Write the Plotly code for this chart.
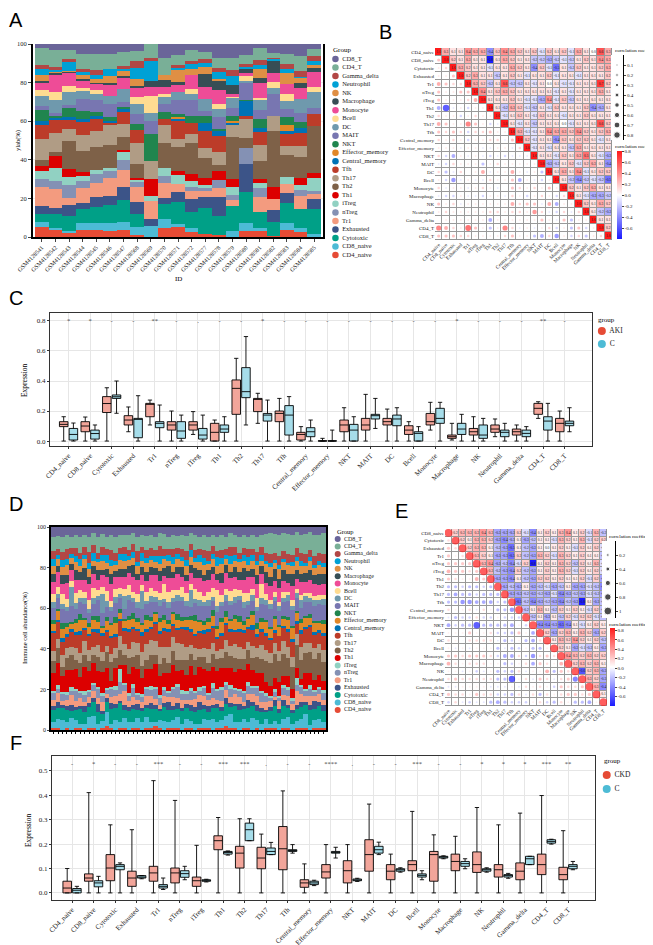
import plotly.graph_objects as go

W, H = 653, 945
SERIF = "Liberation Serif"
SANS = "Liberation Sans"


def xd(a, b):
    return [a / W, b / W]


def yd(top, bottom):
    return [1 - bottom / H, 1 - top / H]


def px(x):
    return x / W


def py(y):
    return 1 - y / H


# ---------------------------------------------------------------- categories
cell_types = ["CD4_naive", "CD8_naive", "Cytotoxic", "Exhausted", "Tr1", "nTreg",
              "iTreg", "Th1", "Th2", "Th17", "Tfh", "Central_memory",
              "Effector_memory", "NKT", "MAIT", "DC", "Bcell", "Monocyte",
              "Macrophage", "NK", "Neutrophil", "Gamma_delta", "CD4_T", "CD8_T"]
cell_colors = ["#E64B35", "#4DBBD5", "#00A087", "#3C5488", "#F39B7F", "#8491B4",
               "#91D1C2", "#DC0000", "#7E6148", "#B09C85", "#BC3C29", "#0072B5",
               "#E18727", "#20854E", "#7876B1", "#6F99AD", "#FFDC91", "#EE4C97",
               "#374E55", "#DF8F44", "#00A1D5", "#B24745", "#79AF97", "#6A6599"]

# ---------------------------------------------------------------- panel A data (%)
a_samples = ["GSM4128541", "GSM4128542", "GSM4128543", "GSM4128544", "GSM4128545",
             "GSM4128546", "GSM4128547", "GSM4128568", "GSM4128569", "GSM4128570",
             "GSM4128571", "GSM4128572", "GSM4128577", "GSM4128578", "GSM4128579",
             "GSM4128580", "GSM4128581", "GSM4128582", "GSM4128583", "GSM4128584",
             "GSM4128585"]
a_CD4_naive = [5, 4, 2.5, 3.5, 3.5, 3, 3.5, 1, 0, 4.5, 5, 2.5, 1.5, 1, 0, 3, 3, 0.5, 3.5, 2.5, 0]
a_CD8_naive = [3, 0.5, 0.5, 4, 3.5, 4, 4.5, 4, 5.5, 5, 1.5, 2, 0, 0, 3, 4, 1.5, 0, 3.5, 2, 1.5]
a_Cytotoxic = [4, 7.5, 8, 7, 8.5, 9.5, 11, 7, 0, 7.5, 11.5, 8.5, 14, 10, 13, 16.5, 8.5, 7.5, 10.5, 10, 13]
a_Exhausted = [4, 3, 5.5, 3, 5, 5, 7, 6, 4, 3, 5.5, 6.5, 5.5, 9.5, 0, 14.5, 0, 6, 5.5, 0, 5]
a_Tr1 = [10, 10, 3.5, 8, 7.5, 9, 8.5, 8, 9, 8, 4, 4.5, 3.5, 5, 3, 0, 7.5, 5.5, 4.5, 7, 3]
a_nTreg = [4, 4, 7, 3.5, 4.5, 3.5, 5.5, 2.5, 0, 3.5, 0, 2, 1.5, 4, 3, 8, 5, 0, 0, 3, 1.5]
a_iTreg = [4, 7, 4, 2.5, 2, 1.5, 4.5, 1.5, 3, 4, 4.5, 3, 1.5, 0, 4, 0, 2.5, 0, 3.5, 2.5, 6.5]
a_Th1 = [3, 6, 4, 2, 0, 0, 0.5, 0.5, 8.5, 0, 2, 3.5, 3.5, 4.5, 4, 0, 2, 6.5, 0, 3.5, 2.5]
a_Th2 = [3, 2, 15, 11, 12, 12, 7, 7.5, 0, 13, 12.5, 16, 10.5, 3.5, 22, 5.5, 9.5, 29, 11.5, 11, 24.5]
a_Th17 = [11, 10, 6, 8.5, 8.5, 11, 6.5, 10.5, 9.5, 9.5, 4.5, 5, 5.5, 6.5, 6, 9.5, 8, 7.5, 4.5, 5.5, 0]
a_Tfh = [7, 7, 4.5, 6.5, 6, 1, 6.5, 7, 0, 3, 9, 5.5, 9, 8.5, 0, 1.5, 7, 0, 6.5, 7, 6]
a_Central_memory = [2, 1, 1.5, 1.5, 1.5, 0.5, 1.5, 0, 0, 0, 1.5, 0, 4, 2.5, 1.5, 8, 2, 0, 1.5, 2.5, 0]
a_Effector_memory = [0, 0, 0, 0, 0, 0, 0, 0, 0, 0, 1, 0, 0, 0, 0.5, 0, 0, 0, 3, 0, 0]
a_NKT = [6, 1, 5, 4.5, 2.5, 2, 1, 3, 14, 4, 1, 3.5, 4, 1, 2.5, 0.5, 4.5, 0, 4, 3, 0]
a_MAIT = [2, 1, 1.5, 6, 6, 7, 2.5, 5, 6.5, 4, 7.5, 8.5, 2.5, 6, 4.5, 9, 5, 11.5, 4.5, 4.5, 3.5]
a_DC = [5, 7, 6.5, 4, 3, 4, 6.5, 5.5, 4.5, 4, 4, 3, 6.5, 4.5, 5.5, 1, 5.5, 3, 4, 7.5, 8]
a_Bcell = [3, 4, 3, 1.5, 2, 0, 0, 3.5, 8.5, 1, 0, 2.5, 0, 2.5, 0.5, 2.5, 0.5, 3.5, 3.5, 0, 2.5]
a_Monocyte = [4, 9, 7, 4, 3.5, 6, 6, 5, 4.5, 3.5, 4, 7.5, 6.5, 7, 1, 1.5, 8, 4.5, 5.5, 5.5, 8]
a_Macrophage = [1, 1, 0.5, 1, 0.5, 1, 1, 0.5, 3.5, 4, 1.5, 0, 6.5, 5, 5, 2, 2.5, 6, 0, 3, 2]
a_NK = [3, 1, 0.5, 2, 2, 3.5, 2.5, 4, 0, 2.5, 6, 3, 4, 1, 0, 0, 4.5, 0, 5.5, 2.5, 1.5]
a_Neutrophil = [3, 1, 5, 1.5, 2, 3.5, 1.5, 5.5, 10, 0, 1.5, 3, 2, 3.5, 4.5, 1.5, 2, 1.5, 2, 0.5, 2]
a_Gamma_delta = [2, 1, 1, 1.5, 2.5, 0, 1, 3.5, 1.5, 0, 1, 1, 2, 2, 3, 1, 2.5, 0.5, 2.5, 3, 3]
a_CD4_T = [9, 9, 5, 8, 8.5, 8, 7.5, 5.5, 7.5, 9, 5.5, 6, 4, 5.5, 6.5, 5, 6.5, 2.5, 5.5, 8, 3.5]
a_CD8_T = [2, 3, 3, 5, 5, 5, 4, 3.5, 0, 7, 5.5, 3, 4, 7, 7, 5.5, 2, 4.5, 5, 6, 2.5]
a_series = [a_CD4_naive, a_CD8_naive, a_Cytotoxic, a_Exhausted, a_Tr1, a_nTreg, a_iTreg,
            a_Th1, a_Th2, a_Th17, a_Tfh, a_Central_memory, a_Effector_memory, a_NKT,
            a_MAIT, a_DC, a_Bcell, a_Monocyte, a_Macrophage, a_NK, a_Neutrophil,
            a_Gamma_delta, a_CD4_T, a_CD8_T]

# ---------------------------------------------------------------- panel D data (relative)
d_CD4_naive = [1, 1, 0, 1, 0, 1, 1, 0, 1, 1, 0, 1, 2, 1, 0, 1, 1, 0, 1, 1, 0, 1, 1, 2, 1, 0, 1, 1, 1, 0,
               1, 1, 0, 1, 1, 1, 0, 1, 1, 2, 1, 1, 0, 1, 1, 0, 1, 0, 1, 1, 1, 0, 1, 1, 0, 1, 1, 1, 0, 1, 1, 1]
d_CD8_naive = [3, 4, 5, 3, 6, 4, 2, 3, 5, 6, 3, 4, 7, 2, 5, 3, 6, 4, 3, 5, 4, 6, 3, 2, 4, 5, 3, 4, 6, 3,
               5, 4, 3, 2, 5, 4, 6, 3, 4, 5, 7, 3, 4, 5, 3, 6, 4, 3, 5, 2, 4, 3, 5, 6, 3, 4, 5, 8, 3, 4, 5, 3]
d_Cytotoxic = [6, 5, 7, 6, 4, 5, 8, 6, 5, 7, 6, 4, 5, 7, 6, 9, 5, 6, 7, 4, 6, 5, 7, 6, 5, 8, 6, 5, 4, 7,
               6, 5, 6, 7, 5, 4, 6, 7, 5, 6, 4, 8, 6, 5, 7, 6, 5, 6, 4, 7, 8, 6, 7, 5, 6, 7, 6, 5, 8, 6, 7, 6]
d_Exhausted = [2, 3, 1, 2, 3, 2, 1, 3, 2, 2, 4, 1, 2, 3, 2, 1, 3, 2, 2, 3, 1, 2, 3, 2, 1, 2, 4, 2, 3, 1,
               2, 3, 2, 4, 2, 3, 1, 2, 2, 3, 2, 1, 3, 2, 4, 2, 3, 2, 1, 2, 3, 2, 3, 2, 1, 2, 3, 2, 3, 4, 2, 3]
d_Tr1 = [3, 4, 2, 3, 5, 3, 4, 2, 3, 4, 3, 5, 2, 3, 4, 3, 8, 3, 4, 2, 3, 5, 4, 3, 2, 4, 3, 5, 3, 4,
         2, 3, 4, 3, 5, 3, 4, 2, 3, 4, 3, 5, 4, 2, 3, 4, 5, 3, 4, 3, 2, 4, 3, 5, 3, 8, 4, 3, 5, 3, 4, 3]
d_nTreg = [3, 2, 4, 3, 2, 5, 3, 4, 2, 3, 5, 3, 2, 4, 3, 6, 4, 3, 5, 2, 3, 4, 3, 5, 4, 3, 2, 4, 6, 3,
           4, 5, 3, 2, 4, 3, 5, 4, 6, 3, 4, 2, 3, 5, 4, 3, 4, 5, 3, 2, 3, 2, 4, 3, 2, 3, 4, 3, 4, 2, 3, 4]
d_iTreg = [1, 2, 1, 1, 2, 1, 1, 2, 1, 1, 1, 2, 1, 1, 2, 6, 1, 1, 2, 1, 1, 1, 2, 1, 1, 2, 1, 1, 1, 2,
           1, 1, 1, 2, 1, 1, 3, 1, 1, 1, 2, 1, 1, 1, 2, 1, 1, 1, 2, 1, 1, 1, 1, 2, 1, 4, 1, 1, 2, 1, 1, 1]
d_Th1 = [9, 10, 8, 11, 9, 10, 7, 12, 9, 10, 8, 11, 10, 3, 9, 2, 11, 10, 9, 12, 8, 10, 9, 11, 10, 8, 9, 11, 7, 10,
         9, 12, 8, 10, 9, 11, 8, 9, 10, 7, 9, 8, 10, 11, 9, 8, 7, 9, 6, 5, 6, 7, 5, 6, 5, 6, 3, 9, 7, 5, 6, 5]
d_Th2 = [6, 7, 5, 6, 8, 5, 7, 6, 5, 4, 7, 6, 8, 9, 5, 7, 6, 8, 5, 7, 6, 5, 7, 4, 6, 8, 5, 7, 6, 5,
         8, 6, 7, 5, 6, 4, 7, 6, 5, 8, 6, 7, 5, 6, 7, 6, 8, 7, 11, 12, 13, 11, 12, 10, 11, 13, 10, 11, 12, 11, 12, 10]
d_Th17 = [5, 4, 6, 5, 4, 6, 5, 7, 5, 4, 6, 5, 3, 4, 5, 7, 6, 5, 8, 6, 7, 9, 8, 7, 9, 6, 8, 7, 9, 8,
          7, 5, 6, 4, 5, 7, 6, 4, 5, 6, 5, 7, 6, 5, 4, 6, 5, 7, 6, 5, 6, 5, 7, 6, 5, 6, 7, 6, 5, 6, 5, 6]
d_Tfh = [9, 8, 7, 6, 8, 7, 9, 6, 7, 8, 6, 9, 7, 8, 6, 7, 8, 9, 7, 6, 8, 7, 6, 8, 7, 9, 8, 6, 7, 8,
         9, 7, 6, 8, 7, 9, 8, 6, 7, 8, 7, 6, 8, 9, 7, 8, 6, 7, 8, 7, 6, 8, 7, 9, 8, 6, 7, 8, 9, 7, 6, 8]
d_Central_memory = [1, 1, 2, 1, 1, 1, 2, 1, 1, 1, 2, 1, 1, 1, 1, 1, 2, 1, 1, 1, 2, 1, 1, 1, 1, 2, 1, 1, 1, 1,
                    2, 1, 1, 1, 2, 1, 1, 1, 1, 1, 2, 1, 1, 1, 1, 2, 1, 1, 1, 1, 1, 0, 1, 1, 1, 1, 2, 1, 1, 1, 1, 1]
d_Effector_memory = [3, 4, 5, 4, 3, 5, 6, 4, 3, 5, 4, 3, 4, 5, 6, 3, 4, 5, 4, 3, 4, 5, 3, 4, 5, 4, 3, 5, 4, 3,
                     4, 5, 6, 4, 3, 4, 5, 4, 6, 3, 4, 5, 4, 3, 4, 5, 3, 4, 6, 5, 6, 5, 4, 5, 6, 5, 4, 5, 4, 5, 4, 5]
d_NKT = [2, 1, 3, 2, 1, 2, 3, 1, 2, 2, 3, 1, 2, 1, 3, 2, 1, 2, 3, 2, 1, 3, 2, 1, 2, 3, 2, 1, 3, 2,
         1, 2, 3, 1, 2, 2, 3, 1, 2, 3, 1, 2, 3, 2, 1, 2, 3, 2, 1, 1, 2, 1, 1, 2, 1, 1, 2, 1, 2, 1, 1, 2]
d_MAIT = [6, 5, 7, 6, 8, 5, 6, 7, 5, 6, 8, 7, 5, 6, 7, 5, 6, 8, 6, 5, 7, 6, 8, 5, 6, 7, 6, 5, 7, 8,
          6, 5, 6, 7, 8, 6, 5, 7, 6, 5, 7, 6, 8, 7, 6, 5, 6, 7, 8, 9, 8, 7, 8, 9, 8, 7, 6, 8, 7, 8, 9, 8]
d_DC = [3, 2, 3, 2, 10, 3, 2, 3, 2, 3, 2, 10, 3, 2, 3, 2, 8, 3, 2, 3, 9, 2, 3, 2, 3, 2, 3, 2, 3, 2,
        3, 9, 2, 3, 2, 3, 2, 3, 2, 3, 2, 3, 2, 3, 2, 3, 2, 3, 3, 3, 2, 3, 2, 3, 2, 3, 4, 3, 2, 3, 2, 3]
d_Bcell = [4, 3, 5, 4, 3, 5, 4, 3, 4, 5, 3, 4, 5, 3, 4, 3, 4, 5, 3, 4, 3, 5, 4, 3, 4, 8, 5, 4, 3, 5,
           4, 3, 5, 4, 3, 4, 5, 8, 4, 3, 5, 4, 3, 5, 4, 3, 5, 7, 3, 2, 3, 2, 3, 2, 3, 2, 3, 2, 3, 2, 3, 2]
d_Monocyte = [6, 7, 5, 8, 6, 7, 5, 6, 8, 7, 5, 6, 7, 8, 6, 5, 7, 6, 8, 7, 5, 6, 7, 8, 6, 5, 7, 6, 8, 5,
              7, 6, 5, 7, 8, 6, 7, 5, 6, 8, 7, 6, 5, 7, 8, 6, 7, 5, 6, 7, 6, 7, 6, 5, 7, 6, 7, 6, 7, 6, 5, 6]
d_Macrophage = [4, 3, 5, 4, 3, 5, 4, 6, 3, 4, 5, 3, 4, 5, 3, 4, 5, 4, 6, 3, 4, 5, 4, 3, 5, 4, 6, 3, 4, 5,
                3, 4, 5, 4, 3, 5, 4, 3, 5, 4, 3, 5, 4, 6, 3, 4, 5, 4, 6, 5, 6, 5, 6, 5, 6, 5, 4, 5, 6, 5, 6, 5]
d_NK = [4, 3, 4, 5, 3, 4, 3, 5, 4, 3, 4, 5, 3, 4, 3, 4, 5, 3, 4, 4, 3, 5, 4, 3, 4, 5, 3, 4, 4, 3,
        5, 4, 3, 4, 5, 3, 4, 4, 5, 3, 4, 3, 5, 4, 3, 4, 5, 3, 4, 5, 4, 5, 4, 5, 4, 5, 4, 4, 5, 4, 5, 4]
d_Neutrophil = [3, 2, 4, 3, 2, 3, 4, 2, 3, 4, 2, 3, 4, 3, 2, 3, 4, 2, 3, 2, 4, 3, 2, 3, 4, 2, 3, 4, 3, 2,
                3, 4, 2, 3, 4, 2, 3, 4, 3, 2, 4, 3, 2, 3, 4, 3, 2, 3, 2, 2, 1, 2, 2, 1, 2, 2, 3, 2, 2, 1, 2, 2]
d_Gamma_delta = [4, 3, 4, 5, 3, 4, 3, 4, 5, 4, 3, 4, 3, 5, 4, 3, 4, 3, 4, 5, 3, 4, 4, 3, 5, 4, 3, 4, 3, 4,
                 5, 3, 4, 3, 4, 5, 4, 3, 4, 3, 5, 4, 3, 4, 4, 3, 5, 4, 4, 5, 4, 5, 4, 5, 4, 5, 4, 5, 4, 5, 4, 5]
d_CD4_T = [7, 6, 8, 7, 6, 7, 8, 6, 7, 6, 8, 7, 6, 7, 8, 6, 7, 8, 6, 7, 6, 8, 7, 6, 7, 8, 6, 7, 6, 7,
           8, 6, 7, 6, 8, 7, 6, 7, 8, 6, 7, 6, 8, 7, 6, 7, 8, 6, 10, 11, 10, 11, 10, 11, 10, 9, 10, 11, 10, 11, 10, 11]
d_CD8_T = [5, 4, 5, 4, 5, 4, 5, 4, 5, 3, 5, 4, 5, 4, 5, 4, 5, 4, 3, 5, 4, 5, 4, 5, 3, 4, 5, 4, 5, 4,
           5, 3, 4, 5, 4, 5, 4, 5, 4, 5, 3, 4, 5, 4, 5, 4, 5, 4, 4, 3, 4, 4, 3, 4, 4, 3, 4, 4, 3, 4, 4, 3]
d_series = [d_CD4_naive, d_CD8_naive, d_Cytotoxic, d_Exhausted, d_Tr1, d_nTreg, d_iTreg,
            d_Th1, d_Th2, d_Th17, d_Tfh, d_Central_memory, d_Effector_memory, d_NKT,
            d_MAIT, d_DC, d_Bcell, d_Monocyte, d_Macrophage, d_NK, d_Neutrophil,
            d_Gamma_delta, d_CD4_T, d_CD8_T]
d_samples = list(range(1, len(d_CD4_naive) + 1))

# ---------------------------------------------------------------- panel B correlations (upper rows)
b_labels = cell_types
b_upper = [
    [0.3, 0.1, 0.1, 0.4, 0.3, 0.3, -0.4, 0.2, 0.4, 0.3, 0.2, 0.1, 0.2, -0.1, 0.2, 0.1, 0.2, -0.1, 0.3, 0.1, 0.0, 0.6, 0.3],
    [0.2, 0.1, 0.3, 0.1, 0.1, -0.8, 0.1, 0.3, 0.2, 0.1, 0.1, -0.2, -0.2, -0.3, -0.2, -0.1, -0.2, 0.1, 0.2, 0.1, 0.4, 0.3],
    [0.3, 0.2, 0.1, 0.1, -0.1, 0.1, 0.1, 0.3, 0.2, 0.1, -0.4, 0.2, -0.1, -0.5, 0.1, -0.2, 0.2, 0.1, 0.1, 0.2, 0.3],
    [0.2, 0.3, 0.1, 0.1, -0.2, 0.1, 0.2, 0.1, -0.1, 0.1, 0.1, 0.2, -0.1, 0.1, 0.1, -0.1, 0.1, 0.1, 0.1, 0.2],
    [0.3, 0.2, -0.2, 0.1, 0.6, -0.2, -0.2, 0.1, -0.1, 0.1, 0.0, 0.1, -0.1, -0.1, 0.1, 0.1, 0.1, 0.7, 0.2],
    [0.4, 0.1, 0.2, 0.3, 0.2, 0.1, 0.1, 0.1, 0.1, 0.1, -0.1, 0.1, -0.1, 0.1, 0.1, 0.1, 0.3, 0.1],
    [0.1, 0.1, 0.1, 0.2, 0.1, -0.1, -0.1, -0.3, 0.4, -0.1, 0.2, -0.2, 0.1, 0.1, 0.1, 0.1, 0.1],
    [0.1, -0.2, 0.3, 0.2, -0.1, -0.2, 0.1, -0.1, 0.2, 0.1, 0.1, 0.1, 0.2, -0.4, -0.3, 0.1],
    [-0.1, 0.1, 0.2, 0.1, -0.1, 0.2, 0.1, 0.1, -0.1, 0.1, 0.1, 0.2, 0.1, 0.1, 0.1],
    [0.1, -0.1, 0.1, -0.2, 0.1, 0.1, 0.1, 0.0, -0.1, 0.1, 0.1, 0.1, 0.6, 0.2],
    [0.3, -0.1, -0.1, 0.1, 0.4, 0.3, 0.3, 0.2, 0.4, 0.2, 0.1, 0.2, 0.3],
    [0.2, -0.1, 0.1, 0.1, -0.4, 0.2, 0.1, 0.2, 0.2, 0.1, -0.1, 0.1],
    [-0.1, 0.1, -0.1, 0.1, 0.1, -0.2, 0.3, 0.1, 0.1, 0.1, 0.1],
    [0.1, 0.1, -0.1, 0.2, 0.1, 0.3, 0.5, 0.1, -0.1, -0.3],
    [-0.3, -0.2, 0.1, 0.2, -0.1, 0.2, 0.3, 0.1, -0.4],
    [0.1, 0.3, 0.1, 0.4, -0.1, 0.1, 0.2, 0.2],
    [0.1, -0.2, -0.4, -0.2, -0.1, -0.2, -0.5],
    [0.2, 0.1, 0.2, 0.3, 0.1, 0.1],
    [0.1, -0.1, -0.3, -0.3, -0.2],
    [0.2, 0.1, 0.3, 0.2],
    [0.1, -0.2, -0.3],
    [0.1, 0.1],
    [0.2],
]

# ---------------------------------------------------------------- panel E correlations (upper rows)
e_labels = cell_types[1:]
e_upper = [
    [0.2, 0.3, 0.3, 0.3, 0.4, 0.3, -0.3, -0.3, -0.3, 0.2, -0.1, -0.4, 0.1, 0.2, 0.1, 0.3, 0.4, 0.1, 0.2, -0.1, 0.3, -0.2],
    [0.2, 0.1, 0.3, 0.3, 0.2, -0.3, -0.4, -0.3, 0.1, -0.3, -0.2, 0.1, 0.1, -0.1, 0.3, 0.2, 0.1, 0.3, -0.1, 0.2, 0.2],
    [0.2, 0.3, 0.3, 0.1, -0.2, -0.3, -0.5, 0.1, -0.2, -0.3, 0.1, 0.0, 0.1, 0.2, 0.1, -0.1, 0.2, 0.1, 0.2, -0.1],
    [0.3, 0.2, 0.1, -0.3, -0.3, -0.5, 0.2, -0.2, -0.3, 0.3, 0.2, -0.1, 0.3, 0.2, 0.1, 0.2, 0.1, 0.1, -0.2],
    [0.3, 0.4, -0.3, -0.2, -0.4, -0.1, 0.2, -0.8, 0.1, 0.2, 0.1, 0.3, 0.2, -0.2, 0.2, 0.1, 0.3, -0.1],
    [0.3, -0.2, -0.3, -0.4, 0.2, -0.2, -0.3, 0.1, 0.2, 0.1, 0.3, 0.2, -0.1, 0.2, 0.1, 0.2, -0.1],
    [-0.3, -0.3, -0.4, 0.1, -0.2, -0.3, 0.2, 0.2, 0.1, 0.2, 0.1, 0.1, 0.2, -0.1, 0.2, -0.3],
    [-0.3, -0.2, -0.3, 0.1, -0.3, -0.2, -0.1, -0.3, -0.2, 0.1, -0.3, -0.3, -0.1, -0.2, -0.4],
    [-0.3, -0.3, -0.2, -0.3, -0.2, -0.3, -0.1, -0.4, -0.3, -0.2, -0.3, -0.1, -0.2, -0.3],
    [-0.5, -0.2, -0.4, -0.3, -0.2, -0.3, -0.4, -0.2, -0.3, -0.8, 0.1, -0.3, -0.2],
    [-0.2, 0.1, 0.3, 0.1, -0.2, 0.2, 0.1, 0.2, 0.1, -0.1, 0.2, -0.2],
    [-0.2, 0.1, -0.3, 0.1, -0.2, 0.2, -0.1, 0.2, 0.2, -0.1, -0.2],
    [-0.4, -0.4, -0.3, -0.5, -0.4, 0.1, -0.1, 0.1, 0.2, 0.1],
    [0.2, -0.3, 0.2, 0.3, 0.1, 0.3, 0.2, -0.3, 0.2],
    [0.1, 0.3, 0.2, 0.4, 0.2, 0.1, 0.2, -0.2],
    [0.2, 0.1, -0.3, -0.1, -0.2, 0.1, -0.3],
    [0.4, 0.3, 0.2, 0.3, 0.2, 0.2],
    [0.2, 0.3, 0.2, 0.3, 0.1],
    [-0.6, 0.2, 0.3, -0.3],
    [0.3, 0.2, -0.3],
    [0.3, -0.4],
    [0.1],
]

# ---------------------------------------------------------------- panel C box statistics
c_categories = cell_types
c_aki_q1 = [0.096, 0.062, 0.19, 0.107, 0.162, 0.073, 0.073, 0.0, 0.178, 0.196, 0.129, 0.007, 0.0, 0.062, 0.073, 0.107, 0.044, 0.107, 0.018, 0.04, 0.058, 0.04, 0.178, 0.062]
c_aki_med = [0.111, 0.10, 0.25, 0.14, 0.245, 0.107, 0.107, 0.058, 0.351, 0.28, 0.184, 0.044, 0.0, 0.107, 0.107, 0.129, 0.073, 0.129, 0.029, 0.062, 0.08, 0.062, 0.218, 0.118]
c_aki_q3 = [0.129, 0.129, 0.296, 0.169, 0.251, 0.129, 0.129, 0.118, 0.407, 0.284, 0.2, 0.058, 0.002, 0.14, 0.151, 0.151, 0.102, 0.184, 0.04, 0.084, 0.107, 0.08, 0.251, 0.151]
c_aki_lo = [0, 0, 0, 0.062, 0.107, 0, 0.044, 0, 0, 0.118, 0, 0, 0, 0, 0, 0, 0, 0.073, 0.007, 0, 0.029, 0, 0.151, 0]
c_aki_hi = [0.162, 0.16, 0.355, 0.227, 0.273, 0.2, 0.196, 0.14, 0.551, 0.318, 0.284, 0.096, 0.018, 0.222, 0.311, 0.213, 0.129, 0.258, 0.118, 0.162, 0.147, 0.107, 0.262, 0.2]
c_ctl_q1 = [0.007, 0.013, 0.284, 0.022, 0.089, 0.018, 0.013, 0.058, 0.289, 0.133, 0.04, 0.029, 0.0, 0.0, 0.147, 0.102, 0.0, 0.118, 0.044, 0.018, 0.029, 0.029, 0.073, 0.102]
c_ctl_med = [0.044, 0.05, 0.295, 0.151, 0.118, 0.067, 0.04, 0.08, 0.329, 0.173, 0.173, 0.062, 0.0, 0.073, 0.169, 0.147, 0.051, 0.151, 0.08, 0.04, 0.058, 0.051, 0.133, 0.118]
c_ctl_q3 = [0.084, 0.073, 0.307, 0.151, 0.129, 0.129, 0.084, 0.107, 0.489, 0.184, 0.236, 0.089, 0.002, 0.111, 0.178, 0.173, 0.062, 0.218, 0.118, 0.107, 0.073, 0.073, 0.162, 0.133]
c_ctl_lo = [0, 0, 0.185, 0, 0, 0, 0, 0, 0.107, 0, 0, 0, 0, 0, 0.084, 0, 0, 0, 0, 0, 0, 0, 0, 0.062]
c_ctl_hi = [0.12, 0.107, 0.4, 0.302, 0.24, 0.173, 0.173, 0.162, 0.696, 0.273, 0.296, 0.14, 0.073, 0.162, 0.284, 0.222, 0.096, 0.258, 0.178, 0.151, 0.118, 0.096, 0.251, 0.222]
c_sig = ["*", "*", "-", "-", "**", "-", ".", "-", "-", "*", "-", "-", "-", "-", "-", "-", "-", "-", "*", "-", "-", "-", "**", "-"]

# ---------------------------------------------------------------- panel F box statistics
f_categories = cell_types
f_ckd_q1 = [0.0, 0.048, 0.05, 0.027, 0.048, 0.041, 0.027, 0.177, 0.102, 0.099, 0.095, 0.023, 0.061, 0.041, 0.089, 0.054, 0.091, 0.048, 0.091, 0.084, 0.065, 0.054, 0.075, 0.054]
f_ckd_med = [0.02, 0.061, 0.102, 0.061, 0.082, 0.082, 0.05, 0.214, 0.163, 0.143, 0.181, 0.041, 0.086, 0.091, 0.157, 0.089, 0.116, 0.157, 0.129, 0.116, 0.095, 0.089, 0.116, 0.075]
f_ckd_q3 = [0.048, 0.078, 0.157, 0.089, 0.109, 0.102, 0.065, 0.234, 0.191, 0.187, 0.272, 0.054, 0.116, 0.132, 0.218, 0.116, 0.132, 0.17, 0.159, 0.168, 0.116, 0.123, 0.159, 0.105]
f_ckd_lo = [0, 0, 0, 0, 0, 0, 0, 0, 0, 0, 0, 0, 0, 0, 0, 0, 0, 0, 0, 0, 0, 0, 0, 0]
f_ckd_hi = [0.1, 0.411, 0.279, 0.259, 0.46, 0.379, 0.195, 0.309, 0.304, 0.241, 0.418, 0.119, 0.198, 0.198, 0.364, 0.159, 0.334, 0.238, 0.232, 0.35, 0.279, 0.327, 0.399, 0.255]
f_ctl_q1 = [0.0, 0.025, 0.095, 0.061, 0.02, 0.064, 0.048, 0.159, 0.214, 0.157, 0.17, 0.034, 0.163, 0.05, 0.163, 0.089, 0.065, 0.143, 0.109, 0.089, 0.065, 0.116, 0.204, 0.099]
f_ctl_med = [0.011, 0.041, 0.109, 0.065, 0.027, 0.079, 0.05, 0.166, 0.259, 0.17, 0.174, 0.041, 0.166, 0.053, 0.177, 0.095, 0.072, 0.147, 0.12, 0.095, 0.071, 0.14, 0.211, 0.109]
f_ctl_q3 = [0.018, 0.05, 0.116, 0.071, 0.034, 0.091, 0.054, 0.17, 0.286, 0.184, 0.177, 0.048, 0.17, 0.057, 0.191, 0.099, 0.078, 0.15, 0.129, 0.099, 0.075, 0.15, 0.218, 0.116]
f_ctl_lo = [0.0, 0.0, 0.0, 0.058, 0.014, 0.054, 0.045, 0.155, 0.214, 0.157, 0.163, 0.03, 0.143, 0.047, 0.157, 0.085, 0.054, 0.14, 0.099, 0.085, 0.06, 0.116, 0.2, 0.095]
f_ctl_hi = [0.027, 0.068, 0.123, 0.07, 0.061, 0.109, 0.056, 0.172, 0.304, 0.207, 0.198, 0.052, 0.187, 0.06, 0.208, 0.103, 0.091, 0.152, 0.14, 0.103, 0.08, 0.15, 0.22, 0.129]
f_sig = ["-", "*", "-", "-", "***", "-", "-", "***", "***", ".", "-", "-", "****", ".", "-", "-", "***", "-", "-", "*", "*", "*", "***", "**"]

# ---------------------------------------------------------------- styles
GROUP_FILL = ["#F2A59A", "#A6DDEA"]
GROUP_DOT = ["#E64B35", "#4DBBD5"]
CORR_SCALE = [[0.0, "#1a1aff"], [0.5, "#ffffff"], [1.0, "#ff1a1a"]]

traces = []
annotations = []
shapes = []


def ann(text, x, y, size, family=SERIF, angle=0, xanchor="center", yanchor="middle", color="black"):
    annotations.append(dict(text=text, x=px(x), y=py(y), xref="paper", yref="paper",
                            showarrow=False, textangle=angle, xanchor=xanchor, yanchor=yanchor,
                            font=dict(size=size, family=family, color=color)))


# ---------------------------------------------------------------- stacked bars (A, D)
def stacked(series, samples, xa, ya):
    totals = [sum(col) for col in zip(*series)]
    for k, vals in enumerate(series):
        traces.append(go.Bar(x=samples, y=[v / t * 100 for v, t in zip(vals, totals)],
                             marker=dict(color=cell_colors[k], line=dict(width=0)),
                             xaxis=xa, yaxis=ya, showlegend=False, hoverinfo="skip"))


def dot_legend(labels, colors, xa, ya, xpos, msize, fsize):
    traces.append(go.Scatter(x=[xpos] * len(labels), y=list(range(len(labels))),
                             mode="markers+text", text=[" " + t for t in labels],
                             textposition="middle right",
                             textfont=dict(size=fsize, family=SERIF, color="#222"),
                             marker=dict(color=colors, size=msize, line=dict(width=0)),
                             xaxis=xa, yaxis=ya, showlegend=False, hoverinfo="skip",
                             cliponaxis=False))


stacked(a_series, a_samples, "x", "y")
dot_legend(cell_types[::-1], cell_colors[::-1], "x2", "y2", 0.07, 6.5, 6.5)
stacked(d_series, d_samples, "x7", "y7")
dot_legend(cell_types[::-1], cell_colors[::-1], "x8", "y8", 0.05, 6, 6)


# ---------------------------------------------------------------- correlation matrices (B, E)
def corr_size(r):
    return 1.2 + 6.6 * abs(r)


def matrix(labels, upper, xa, ya, cax, diag_square, font_size):
    n = len(labels)
    R = [[1.0] * n for _ in range(n)]
    for i, row in enumerate(upper):
        for k, v in enumerate(row):
            j = i + 1 + k
            R[i][j] = v
            R[j][i] = v

    def is_up(i, j):
        return j > i or (diag_square and j == i)

    z_up = [[R[i][j] if is_up(i, j) else None for j in range(n)] for i in range(n)]
    z_lo = [[None if is_up(i, j) else 0 for j in range(n)] for i in range(n)]
    idx = list(range(n))
    traces.append(go.Heatmap(x=idx, y=idx, z=z_lo, colorscale=[[0, "white"], [1, "white"]],
                             showscale=False, xgap=1, ygap=1, xaxis=xa, yaxis=ya,
                             hoverinfo="skip"))
    traces.append(go.Heatmap(x=idx, y=idx, z=z_up, coloraxis=cax, xgap=1, ygap=1,
                             xaxis=xa, yaxis=ya, hoverinfo="skip"))
    tx, ty, tt = [], [], []
    cx, cy, cv = [], [], []
    for i in range(n):
        for j in range(n):
            if is_up(i, j):
                tx.append(j); ty.append(i); tt.append(f"{R[i][j]:.1f}")
            else:
                cx.append(j); cy.append(i); cv.append(R[i][j])
    traces.append(go.Scatter(x=tx, y=ty, text=tt, mode="text",
                             textfont=dict(size=3.6, family=SERIF, color="#222"),
                             xaxis=xa, yaxis=ya, showlegend=False, hoverinfo="skip"))
    traces.append(go.Scatter(x=cx, y=cy, mode="markers",
                             marker=dict(size=[corr_size(v) for v in cv], color=cv,
                                         coloraxis=cax, line=dict(width=0)),
                             xaxis=xa, yaxis=ya, showlegend=False, hoverinfo="skip"))
    shapes.append(dict(type="rect", xref=xa, yref=ya, x0=-0.5, x1=n - 0.5, y0=-0.5, y1=n - 0.5,
                       fillcolor="#9a9a9a", line=dict(width=0.8, color="#8a8a8a"), layer="below"))
    ax_x = dict(tickmode="array", tickvals=idx, ticktext=labels, tickangle=-45,
                tickfont=dict(size=font_size, family=SERIF, color="#222"), range=[-0.5, n - 0.5],
                showgrid=False, zeroline=False, ticks="", showline=False)
    ax_y = dict(tickmode="array", tickvals=idx, ticktext=labels,
                tickfont=dict(size=font_size, family=SERIF, color="#222"), range=[n - 0.5, -0.5],
                showgrid=False, zeroline=False, ticks="", showline=False)
    return ax_x, ax_y


bx, by = matrix(b_labels, b_upper, "x3", "y3", "coloraxis", True, 5)
ex, ey = matrix(e_labels, e_upper, "x9", "y9", "coloraxis2", False, 5)

b_size_vals = [0.1, 0.2, 0.3, 0.4, 0.5, 0.6, 0.7, 0.8]
e_size_vals = [0.2, 0.4, 0.6, 0.8, 1.0]
traces.append(go.Scatter(x=[0.5] * len(b_size_vals), y=b_size_vals, mode="markers",
                         marker=dict(size=[corr_size(v) for v in b_size_vals], color="black"),
                         xaxis="x4", yaxis="y4", showlegend=False, hoverinfo="skip", cliponaxis=False))
traces.append(go.Scatter(x=[0.45] * len(e_size_vals), y=e_size_vals, mode="markers",
                         marker=dict(size=[corr_size(v) for v in e_size_vals], color="black"),
                         xaxis="x10", yaxis="y10", showlegend=False, hoverinfo="skip", cliponaxis=False))


# ---------------------------------------------------------------- box plots (C, F)
def boxes(cats, stats, names, xa, ya, sig, sig_y):
    for g, (q1, med, q3, lo, hi) in enumerate(stats):
        traces.append(go.Box(x=cats, q1=q1, median=med, q3=q3, lowerfence=lo, upperfence=hi,
                             name=names[g], offsetgroup=names[g] + xa, fillcolor=GROUP_FILL[g],
                             line=dict(color="black", width=0.9), whiskerwidth=0.5,
                             boxpoints=False, xaxis=xa, yaxis=ya, showlegend=False,
                             hoverinfo="skip"))
    traces.append(go.Scatter(x=cats, y=[sig_y] * len(cats), text=sig, mode="text",
                             textfont=dict(size=6.5, family=SERIF, color="#444"),
                             xaxis=xa, yaxis=ya, showlegend=False, hoverinfo="skip"))


boxes(c_categories,
      [(c_aki_q1, c_aki_med, c_aki_q3, c_aki_lo, c_aki_hi),
       (c_ctl_q1, c_ctl_med, c_ctl_q3, c_ctl_lo, c_ctl_hi)],
      ["AKI", "C"], "x5", "y5", c_sig, 0.8)
boxes(f_categories,
      [(f_ckd_q1, f_ckd_med, f_ckd_q3, f_ckd_lo, f_ckd_hi),
       (f_ctl_q1, f_ctl_med, f_ctl_q3, f_ctl_lo, f_ctl_hi)],
      ["CKD", "C"], "x11", "y11", f_sig, 0.525)
dot_legend(["AKI", "C"], GROUP_DOT, "x6", "y6", 0.09, 8, 7.5)
dot_legend(["CKD", "C"], GROUP_DOT, "x12", "y12", 0.08, 8, 7.5)

# ---------------------------------------------------------------- annotations
for letter, x, y in [("A", 8, 12), ("B", 377, 24), ("C", 8, 290), ("D", 8, 496),
                     ("E", 393, 503), ("F", 8, 735)]:
    ann(letter, x, y, 20, family=SANS)
ann("ylab(%)", 10, 133, 6.5, angle=-90)
ann("ID", 170, 271, 7)
ann("Group", 323, 42, 7, xanchor="left")
ann("Expression", 17, 372, 7.5, angle=-90)
ann("group", 588, 312, 7, xanchor="left")
ann("Immune cell abundance(%)", 17, 620, 6.5, angle=-90)
ann("Group", 327, 523, 6.5, xanchor="left")
ann("Expression", 20, 822, 7.5, angle=-90)
ann("group", 594, 753, 7, xanchor="left")
ann("correlation coefficient", 605, 43, 5, xanchor="left")
ann("correlation coefficient", 605, 139, 5, xanchor="left")
ann("correlation coefficient", 599, 528, 5, xanchor="left")
ann("correlation coefficient", 599, 616, 5, xanchor="left")

TICKF = dict(size=6.5, family=SERIF, color="#222")


def hidden(rng):
    return dict(visible=False, range=rng, fixedrange=True)


def box_x(dom, anchor, rng):
    return dict(domain=dom, anchor=anchor, type="category", range=rng, tickangle=-45,
                tickfont=dict(size=7, family=SERIF, color="#222"), showgrid=True,
                gridcolor="#E6E6E6", gridwidth=0.8, showline=True, mirror=True,
                linecolor="#333", linewidth=1, ticks="outside", ticklen=2, tickcolor="#333")


def box_y(dom, anchor, rng, tv):
    return dict(domain=dom, anchor=anchor, range=rng, tickvals=tv,
                ticktext=[f"{v:.1f}" for v in tv], tickfont=dict(size=7, family=SERIF, color="#222"),
                showgrid=True, gridcolor="#E6E6E6", gridwidth=0.8, showline=True, mirror=True,
                linecolor="#333", linewidth=1, ticks="outside", ticklen=2, tickcolor="#333",
                zeroline=False)


layout = dict(
    width=W, height=H, autosize=False, margin=dict(l=0, r=0, t=0, b=0),
    paper_bgcolor="white", plot_bgcolor="white", template="none",
    font=dict(family=SERIF, color="black"),
    barmode="stack", bargap=0, boxmode="group", boxgap=0.1, boxgroupgap=0.12,
    showlegend=False, annotations=annotations, shapes=shapes,
    # A
    xaxis=dict(domain=xd(25, 315), anchor="y", type="category", range=[-0.65, 20.65],
               tickangle=-45, tickfont=dict(size=6, family=SERIF, color="#222"),
               showline=True, linewidth=1.8, linecolor="black", ticks="outside", ticklen=3,
               showgrid=False),
    yaxis=dict(domain=yd(36, 229), anchor="x", range=[0, 100], tickvals=[0, 20, 40, 60, 80, 100],
               tickfont=TICKF, showline=True, linewidth=1.8, linecolor="black", mirror=True,
               ticks="outside", ticklen=3, showgrid=True, gridcolor="#EEEEEE", zeroline=False),
    xaxis2=dict(domain=xd(322, 400), anchor="y2", **hidden([0, 1])),
    yaxis2=dict(domain=yd(46.75, 251.25), anchor="x2", **hidden([23.5, -0.5])),
    # B
    xaxis3=dict(domain=xd(427, 604), anchor="y3", **bx),
    yaxis3=dict(domain=yd(40, 232), anchor="x3", **by),
    xaxis4=dict(domain=xd(603, 615), anchor="y4", **hidden([0, 1])),
    yaxis4=dict(domain=yd(47, 132), anchor="x4", range=[0.85, 0.0], side="right",
                tickvals=b_size_vals, tickfont=dict(size=5, family=SERIF, color="#222"),
                showline=True, linecolor="black", linewidth=1, ticks="outside", ticklen=2,
                showgrid=False, zeroline=False),
    coloraxis=dict(colorscale=CORR_SCALE, cmin=-0.8, cmax=0.8,
                   colorbar=dict(x=px(609), xanchor="left", y=py(231), yanchor="bottom",
                                 len=(231 - 143) / H, lenmode="fraction", thickness=5,
                                 xpad=0, ypad=0, outlinewidth=0, ticks="outside", ticklen=2,
                                 tickvals=[-0.6, -0.4, -0.2, 0.0, 0.2, 0.4, 0.6, 0.8],
                                 ticktext=["-0.6", "-0.4", "-0.2", "0.0", "0.2", "0.4", "0.6", "0.8"],
                                 tickfont=dict(size=5, family=SERIF, color="#222"))),
    # C
    xaxis5=box_x(xd(42, 584), "y5", [-0.86, 24.27]),
    yaxis5=box_y(yd(305, 438), "x5", [-0.033, 0.853], [0.0, 0.2, 0.4, 0.6, 0.8]),
    xaxis6=dict(domain=xd(588, 653), anchor="y6", **hidden([0, 1])),
    yaxis6=dict(domain=yd(316.5, 342.5), anchor="x6", **hidden([1.5, -0.5])),
    # D
    xaxis7=dict(domain=xd(43, 318), anchor="y7", range=[0.4, len(d_samples) + 0.6],
                tickmode="linear", tick0=1, dtick=1, showticklabels=False, ticks="outside",
                ticklen=2, tickcolor="black", showline=True, linewidth=1.5, linecolor="black",
                mirror=True, showgrid=False, zeroline=False),
    yaxis7=dict(domain=yd(519, 722), anchor="x7", range=[0, 100], tickvals=[0, 20, 40, 60, 80, 100],
                tickfont=dict(size=6, family=SERIF, color="#222"), showline=True, linewidth=1.5,
                linecolor="black", mirror=True, ticks="outside", ticklen=2, showgrid=True,
                gridcolor="#EEEEEE", zeroline=False),
    xaxis8=dict(domain=xd(326, 400), anchor="y8", **hidden([0, 1])),
    yaxis8=dict(domain=yd(527.3, 705.7), anchor="x8", **hidden([23.5, -0.5])),
    # E
    xaxis9=dict(domain=xd(437, 599), anchor="y9", **ex),
    yaxis9=dict(domain=yd(521, 698), anchor="x9", **ey),
    xaxis10=dict(domain=xd(594, 607), anchor="y10", **hidden([0, 1])),
    yaxis10=dict(domain=yd(533, 610), anchor="x10", range=[1.1, 0.0], side="right",
                 tickvals=e_size_vals, tickfont=dict(size=5, family=SERIF, color="#222"),
                 showline=True, linecolor="black", linewidth=1, ticks="outside", ticklen=2,
                 showgrid=False, zeroline=False),
    coloraxis2=dict(colorscale=CORR_SCALE, cmin=-0.8, cmax=0.85,
                    colorbar=dict(x=px(602), xanchor="left", y=py(698), yanchor="bottom",
                                  len=(698 - 620) / H, lenmode="fraction", thickness=5,
                                  xpad=0, ypad=0, outlinewidth=0, ticks="outside", ticklen=2,
                                  tickvals=[-0.6, -0.4, -0.2, 0.0, 0.2, 0.4, 0.6, 0.8],
                                  ticktext=["-0.6", "-0.4", "-0.2", "0.0", "0.2", "0.4", "0.6", "0.8"],
                                  tickfont=dict(size=5, family=SERIF, color="#222"))),
    # F
    xaxis11=box_x(xd(44, 587), "y11", [-0.93, 24.25]),
    yaxis11=box_y(yd(748, 892), "x11", [-0.029, 0.561], [0.0, 0.1, 0.2, 0.3, 0.4, 0.5]),
    xaxis12=dict(domain=xd(594, 653), anchor="y12", **hidden([0, 1])),
    yaxis12=dict(domain=yd(760, 788), anchor="x12", **hidden([1.5, -0.5])),
)

fig = go.Figure(data=traces, layout=layout)
fig.write_html("out.html")
